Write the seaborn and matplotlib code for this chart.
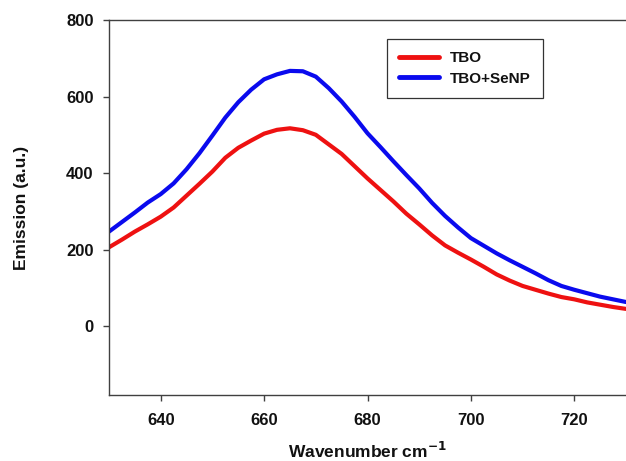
import numpy as np
import pandas as pd
import matplotlib
matplotlib.use("Agg")
import matplotlib.pyplot as plt
import seaborn as sns

wavenumber = [630, 632.5, 635, 637.5, 640, 642.5, 645, 647.5, 650, 652.5, 655, 657.5,
              660, 662.5, 665, 667.5, 670, 672.5, 675, 677.5, 680, 682.5, 685, 687.5,
              690, 692.5, 695, 697.5, 700, 702.5, 705, 707.5, 710, 712.5, 715, 717.5,
              720, 722.5, 725, 727.5, 730]
tbo = [206, 226, 247, 266, 286, 310, 341, 372, 404, 440, 466, 485,
       503, 513, 517, 512, 500, 475, 450, 418, 386, 356, 326, 294,
       266, 237, 211, 192, 174, 155, 135, 119, 105, 95, 85, 76,
       70, 62, 56, 50, 45]
tbo_senp = [247, 272, 297, 323, 345, 373, 410, 452, 498, 545, 585, 618,
            645, 658, 667, 666, 652, 622, 587, 547, 504, 468, 431, 395,
            360, 322, 288, 258, 230, 210, 190, 172, 155, 138, 120, 105,
            95, 86, 77, 70, 63]
series_names = ["TBO", "TBO+SeNP"]
x_ticks = [640, 660, 680, 700, 720]
y_ticks = [0, 200, 400, 600, 800]

df = pd.DataFrame({
    "Wavenumber": wavenumber * 2,
    "Emission": tbo + tbo_senp,
    "Sample": [series_names[0]] * len(wavenumber) + [series_names[1]] * len(wavenumber),
})

sns.set_style("white")
plt.rcParams["font.family"] = ["Liberation Sans", "DejaVu Sans"]

fig = plt.figure(figsize=(6.26, 4.61), dpi=100)
ax = fig.add_axes([109 / 626, 1 - 395 / 461, 1 - 109 / 626, (395 - 20) / 461])

sns.lineplot(data=df, x="Wavenumber", y="Emission", hue="Sample",
             palette={"TBO": "#ee1111", "TBO+SeNP": "#0a0aee"},
             linewidth=3.0, ax=ax)

ax.set_xlim(630, 730)
ax.set_ylim(-180, 800)
ax.set_xticks(x_ticks)
ax.set_yticks(y_ticks)
ax.tick_params(axis="both", which="major", direction="out", length=4, width=1,
               color="#404040", labelsize=12, labelcolor="#111111",
               bottom=True, left=True)
ax.tick_params(axis="y", pad=7)
ax.tick_params(axis="x", pad=9)
for lab in ax.get_xticklabels() + ax.get_yticklabels():
    lab.set_fontweight("bold")

for side in ["left", "bottom", "top"]:
    ax.spines[side].set_visible(True)
    ax.spines[side].set_color("#404040")
    ax.spines[side].set_linewidth(1.0)
ax.spines["right"].set_visible(False)

ax.set_xlabel("Wavenumber cm$^{\\mathbf{-1}}$", fontsize=12.5, fontweight="bold",
              labelpad=9, color="#111111")
ax.set_ylabel("Emission (a.u.)", fontsize=12.5, fontweight="bold", labelpad=27,
              color="#111111")

leg = ax.legend(loc="upper left", bbox_to_anchor=(0.538, 0.949), borderaxespad=0,
                frameon=True, fancybox=False, edgecolor="black", handlelength=2.6,
                handletextpad=0.7, prop={"size": 11, "weight": "bold"},
                borderpad=0.8, labelspacing=0.42)
leg.get_frame().set_linewidth(0.9)
for line in leg.get_lines():
    line.set_linewidth(3.5)
for t in leg.get_texts():
    t.set_color("#111111")

fig.savefig("out.png", dpi=100)
